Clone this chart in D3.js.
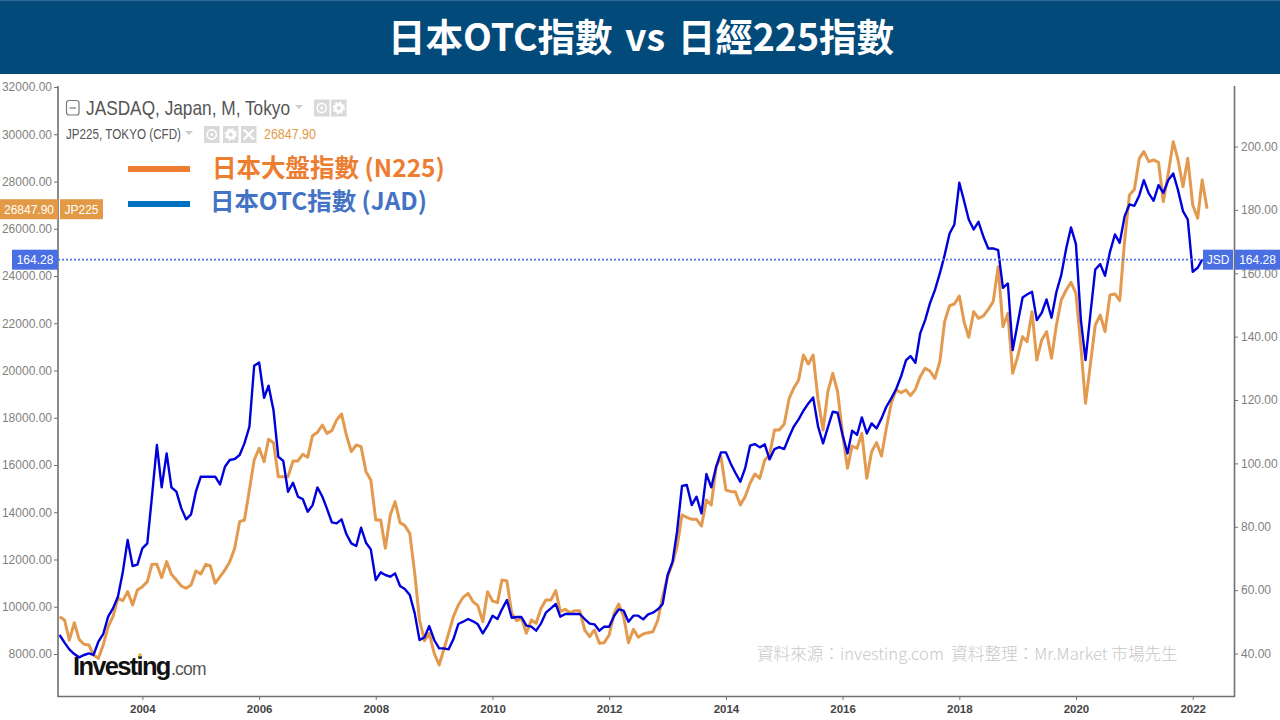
<!DOCTYPE html>
<html><head><meta charset="utf-8">
<style>html,body{margin:0;padding:0;background:#fff;overflow:hidden}svg{display:block}</style>
<script src="https://cdn.jsdelivr.net/npm/d3@7"></script></head><body>
<svg id="c" width="1280" height="720"></svg>
<script>
const titleText = "日本OTC指數 vs 日經225指數";
const seriesNames = ["日本大盤指數 (N225)", "日本OTC指數 (JAD)"];
const startMonth = "2002-08-01";
const leftTicks = [8000,10000,12000,14000,16000,18000,20000,22000,24000,26000,28000,30000,32000];
const rightTicks = [40,60,80,100,120,140,160,180,200];
const yearTicks = [2004,2006,2008,2010,2012,2014,2016,2018,2020,2022];
const n225 = [9580,9440,8590,9326,8620,8410,8380,7960,7817,8380,9157,9580,10357,10258,10639,10074,10709,10850,11062,11796,
11796,11231,11909,11372,11133,10879,10780,10921,11514,11387,11796,11739,10991,11274,11556,11909,12473,13602,13672,14942,
16212,16706,16142,17087,16946,15507,15507,15507,16170,16170,16452,16325,17242,17383,17694,17341,17454,17905,18159,17270,
16565,16847,16777,15718,15365,13672,13672,12473,13884,14448,13560,13433,13108,11415,9440,8565,8875,8028,7534,8170,
8875,9580,10074,10399,10568,10215,10046,9369,10639,10244,10173,11133,11090,9722,9411,9510,8875,9440,9298,9934,
10286,10286,10681,9792,9891,9750,9834,9834,9016,8734,9016,8452,8480,8805,9722,10117,9580,8480,9044,8706,
8847,8903,8945,9440,10427,11274,11838,12544,13884,13785,13701,13701,13418,14519,14307,15930,16353,14942,14872,14872,
14307,14660,15225,15620,15436,16212,16424,17482,17482,17736,18823,19246,19599,20657,20276,20657,18752,17482,19105,19881,
19105,17341,15860,16805,16706,17341,15436,16565,16946,16382,17553,18611,19175,19063,19175,18936,19204,19740,20093,19980,
19669,20375,22068,22745,22816,23154,22025,21405,22491,22209,22308,22590,22914,24396,21856,22420,19881,20586,21433,21221,
22491,20445,21292,21645,20516,21927,22985,23408,23733,23267,21009,18611,20304,21927,22350,21645,23197,23239,22957,25525,
27430,27669,28982,29264,28841,28911,28812,27147,28347,29687,28911,27782,28982,27006,26442,28065,26847.9];
const jasdaq = [45.84,43.42,41.31,39.84,38.79,39.53,40.05,39.53,43.73,46.15,51.62,54.25,57.93,65.82,75.81,67.61,68.03,73.18,74.76,89.48,
105.8,92.43,103.15,92.43,91.06,85.8,82.33,83.91,91.06,95.79,95.79,95.79,95.79,93.37,98.95,101.05,101.37,102.63,106.31,111.56,
130.8,131.86,120.7,124.5,116.8,102.1,100.8,91.06,93.9,89.48,88.74,84.75,86.75,92.43,89.48,85.8,81.38,81.07,82.33,77.7,
74.76,73.92,79.7,74.97,72.87,63.19,65.61,64.77,64.24,65.29,61.3,60.35,58.46,52.67,44.26,45.1,48.67,44.26,41.63,41.63,
41.31,44.47,49.31,50.04,50.88,50.15,49.2,46.36,48.78,51.94,50.88,53.93,56.88,51.3,51.51,51.51,48.78,48.46,47.2,49.52,
52.88,54.25,55.62,51.62,52.46,52.46,52.46,52.46,50.88,49.41,49.2,47.2,48.46,48.46,51.83,53.93,53.51,50.04,51.94,51.94,
50.78,52.36,52.88,53.93,55.62,64.77,68.97,78.44,92.85,93.16,86.85,89.48,84.22,96.63,92.43,98.95,103.47,103.47,99.79,97.05,
94.21,98.42,105.57,106.1,105.05,106,101.26,104.52,105.15,104.52,108.41,111.57,113.88,116.61,118.93,120.82,111.57,106.31,111.36,116.3,
115.98,108.94,103.15,110.3,109.04,114.51,109.46,112.62,111.04,114.2,117.87,120.5,123.4,127.4,132.5,133.86,131.75,141,145.21,150.47,
154.68,159.94,165.72,172.56,175.4,188.54,182.55,176.97,173.82,176.24,171.5,167.82,167.82,167.3,155.4,156.78,135.75,144.17,152.37,153.31,
154.15,145.21,147.53,151.73,145.95,154.15,159.41,167.82,174.45,169.19,145.21,132.6,147.32,161.2,162.88,159.2,166.77,172.24,169.61,178.03,
181.71,181.29,184.65,189.38,185.18,182.86,187.81,185.39,189.38,191.49,186.23,179.6,176.97,160.46,161.72,164.28];
const lastN225 = "26847.90", lastJsd = "164.28";

const svg = d3.select("#c");
const FONT = "'Liberation Sans',Arial,sans-serif", CJK = "'Noto Sans CJK TC','Noto Sans',sans-serif";
const start = new Date(startMonth + "T00:00:00Z");
const monthAt = i => d3.utcMonth.offset(start, i);
const x = d3.scaleUtc().domain([monthAt(0), monthAt(236)]).range([59.6, 1207.1]);
const yL = d3.scaleLinear().domain([8000,32000]).range([654,87]);
const yR = d3.scaleLinear().domain([40,200]).range([653.5,146.5]);

// title band
svg.append("rect").attr("width",1280).attr("height",74).attr("fill","#024a7a");
svg.append("rect").attr("width",1280).attr("height",1).attr("fill","#2f6a94");
svg.append("text").attr("x",641).attr("y",51).attr("text-anchor","middle").attr("fill","#fff")
  .attr("font-family",CJK).attr("font-weight",700).attr("font-size",37.5).attr("word-spacing",4).text(titleText);

// axes
const styleAxis = (g, size, color, weight) => {
  g.selectAll("text").attr("font-family",FONT).attr("font-size",size).attr("fill",color).attr("font-weight",weight);
  g.selectAll("line").attr("stroke","#707070");
  g.select(".domain").remove();
};
const axL = svg.append("g").attr("transform","translate(58,0)")
  .call(d3.axisLeft(yL).tickValues(leftTicks).tickFormat(d3.format(".2f")).tickSize(4).tickPadding(2));
styleAxis(axL,12,"#7f7f7f",400);
const axR = svg.append("g").attr("transform","translate(1234,0)")
  .call(d3.axisRight(yR).tickValues(rightTicks).tickFormat(d3.format(".2f")).tickSize(4).tickPadding(3));
styleAxis(axR,12,"#7f7f7f",400);
const axB = svg.append("g").attr("transform","translate(0,696)")
  .call(d3.axisBottom(x).tickValues(yearTicks.map(y=>new Date(Date.UTC(y,0,1)))).tickFormat(d3.utcFormat("%Y")).tickSize(4).tickPadding(5));
styleAxis(axB,11.5,"#444",700);
svg.append("path").attr("d","M58,86V696.5H1234.5V86").attr("fill","none").attr("stroke","#707070").attr("stroke-width",1.6);

// footer note + logo
svg.append("text").attr("x",757).attr("y",660).attr("font-family",CJK).attr("font-size",16.6).attr("font-weight",300)
  .attr("fill","#c8c8c8").attr("xml:space","preserve").text("資料來源：investing.com  資料整理：Mr.Market 市場先生");
svg.append("text").attr("x",73).attr("y",675).attr("font-family",FONT).attr("font-weight",700).attr("font-size",25.5)
  .attr("letter-spacing",-1.7).attr("fill","#111").text("Investing");
svg.append("text").attr("x",171).attr("y",675).attr("font-family",FONT).attr("font-size",17.5).attr("letter-spacing",-.8).attr("fill","#555").text(".com");
svg.append("circle").attr("cx",140).attr("cy",655).attr("r",1.8).attr("fill","#f0a92c");

// lines
const line = s => d3.line().x((d,i)=>x(monthAt(i))).y(d=>s(d));
svg.append("path").datum(n225).attr("d",line(yL)).attr("fill","none").attr("stroke","#e39a4f").attr("stroke-width",3).attr("stroke-linejoin","round");
svg.append("path").datum(jasdaq).attr("d",line(yR)).attr("fill","none").attr("stroke","#0000dc").attr("stroke-width",2.4).attr("stroke-linejoin","round");

// price line and tags
const lastY = yR(+lastJsd);
svg.append("line").attr("x1",58).attr("x2",1203).attr("y1",lastY).attr("y2",lastY)
  .attr("stroke","#4a6fe3").attr("stroke-width",1.7).attr("stroke-dasharray","2 2");
const tag = (x0,w,yc,color,label) => {
  svg.append("rect").attr("x",x0).attr("y",yc-10).attr("width",w).attr("height",20).attr("fill",color);
  svg.append("text").attr("x",x0+w/2).attr("y",yc+4.3).attr("text-anchor","middle").attr("fill","#fff")
    .attr("font-family",FONT).attr("font-size",12).text(label);
};
const orangeY = yL(+lastN225) ;
tag(0,58,orangeY+.5,"#e39a46",lastN225); tag(60,43,orangeY+.5,"#e39a46","JP225");
tag(12,46,lastY,"#4a6fe3",lastJsd); tag(1203,30,lastY,"#4a6fe3","JSD"); tag(1235,45,lastY,"#4a6fe3",lastJsd);

// chart header (watermark-style titles)
const NARROW = "'Liberation Sans Narrow','Liberation Sans',sans-serif";
svg.append("rect").attr("x",66.5).attr("y",100.5).attr("width",12.5).attr("height",14.5).attr("rx",2.5).attr("fill","none").attr("stroke","#777").attr("stroke-width",1.2);
svg.append("line").attr("x1",69.5).attr("x2",76).attr("y1",108).attr("y2",108).attr("stroke","#777").attr("stroke-width",1.2);
svg.append("text").attr("x",86).attr("y",115).attr("font-family",NARROW).attr("font-size",21).attr("fill","#555")
  .attr("textLength",204).attr("lengthAdjust","spacingAndGlyphs").text("JASDAQ, Japan, M, Tokyo");
svg.append("text").attr("x",66).attr("y",139).attr("font-family",NARROW).attr("font-size",14).attr("fill","#555")
  .attr("textLength",115).attr("lengthAdjust","spacingAndGlyphs").text("JP225, TOKYO (CFD)");
svg.append("text").attr("x",264).attr("y",139).attr("font-family",NARROW).attr("font-size",14).attr("fill","#e39a46")
  .attr("textLength",52).attr("lengthAdjust","spacingAndGlyphs").text(lastN225);
const tri = (cx,cy) => svg.append("path").attr("d",`M${cx-4},${cy-2}h8l-4,4z`).attr("fill","#ccc");
tri(299,107); tri(189,133);
const btn = (x0,yt,kind) => {
  svg.append("rect").attr("x",x0).attr("y",yt).attr("width",15.5).attr("height",17).attr("fill","#d9d9d9");
  const cx=x0+7.75, cy=yt+8.5;
  if(kind==="x"){
    svg.append("path").attr("d",`M${cx-5},${cy-5}L${cx+5},${cy+5}M${cx+5},${cy-5}L${cx-5},${cy+5}`).attr("stroke","#fff").attr("stroke-width",2.2);
  } else if(kind==="gear"){
    svg.append("circle").attr("cx",cx).attr("cy",cy).attr("r",3.6).attr("fill","none").attr("stroke","#fff").attr("stroke-width",3);
    svg.append("circle").attr("cx",cx).attr("cy",cy).attr("r",5.6).attr("fill","none").attr("stroke","#fff").attr("stroke-width",1.4).attr("stroke-dasharray","2.2 2.2");
  } else {
    svg.append("circle").attr("cx",cx).attr("cy",cy).attr("r",4.6).attr("fill","none").attr("stroke","#fff").attr("stroke-width",1.6);
    svg.append("circle").attr("cx",cx).attr("cy",cy).attr("r",1.5).attr("fill","#fff");
  }
};
btn(314,99.5,"eye"); btn(331,99.5,"gear");
btn(204,126,"eye"); btn(223,126,"gear"); btn(241,126,"x");

// legend
svg.append("rect").attr("x",128).attr("y",166).attr("width",62).attr("height",6).attr("fill","#ed7d31");
svg.append("rect").attr("x",128).attr("y",201).attr("width",62).attr("height",6).attr("fill","#0070c0");
svg.append("text").attr("x",212).attr("y",176.5).attr("font-family",CJK).attr("font-weight",700).attr("font-size",24.5).attr("fill","#ed7d31").text(seriesNames[0]);
svg.append("text").attr("x",210).attr("y",209.5).attr("font-family",CJK).attr("font-weight",700).attr("font-size",24.4).attr("fill","#4472c4").text(seriesNames[1]);
</script></body></html>
